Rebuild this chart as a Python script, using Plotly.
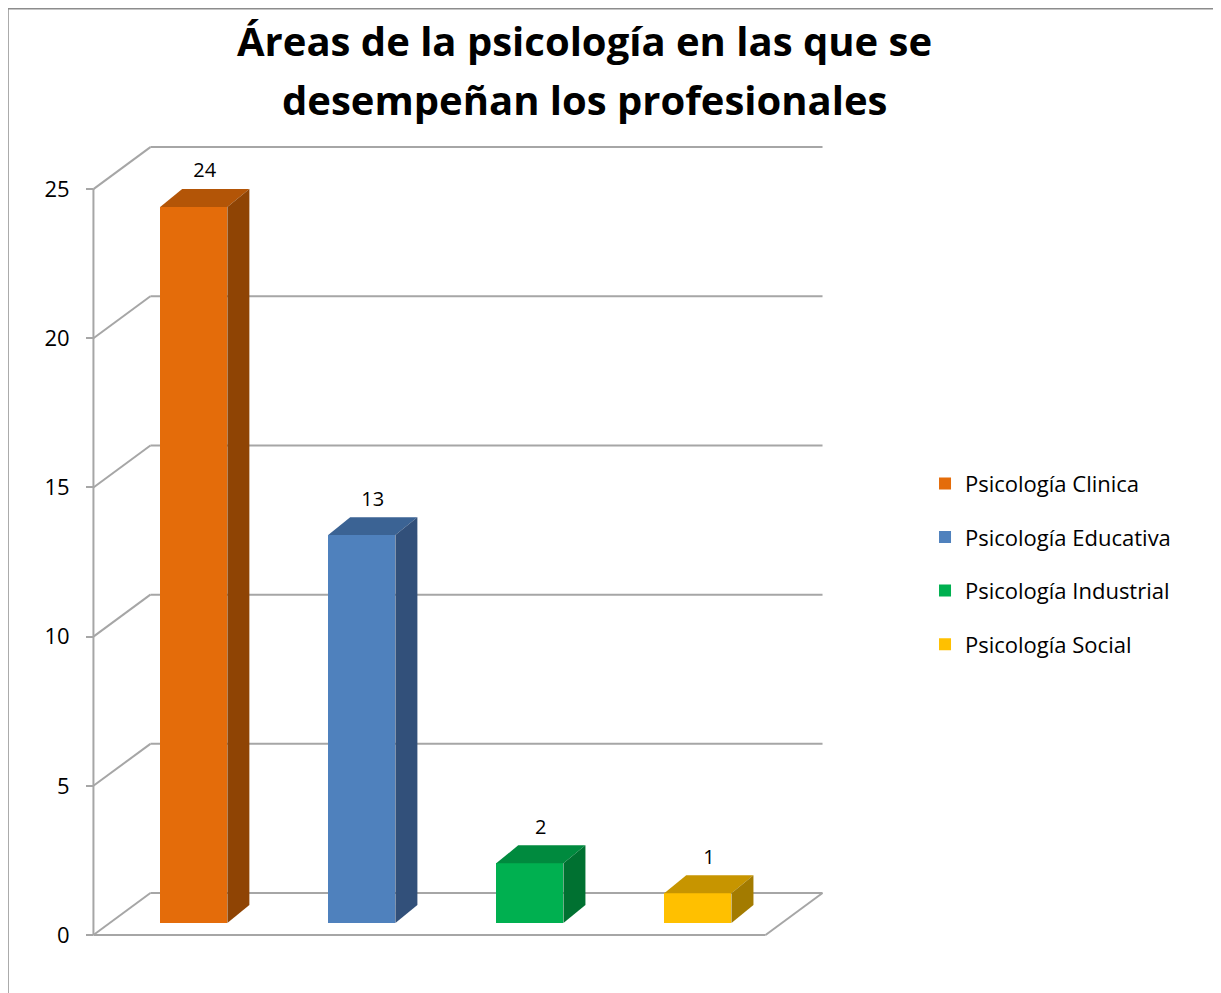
import plotly.graph_objects as go

# data
categories = ["Psicología Clinica", "Psicología Educativa", "Psicología Industrial", "Psicología Social"]
values = [24, 13, 2, 1]
tick_vals = [0, 5, 10, 15, 20, 25]
title_lines = ["Áreas de la psicología en las que se", "desempeñan los profesionales"]

front_colors = ["#E46C0A", "#4F81BD", "#00B050", "#FFC000"]
top_colors = ["#B35507", "#3B6394", "#008A3E", "#C79500"]
side_colors = ["#8F4404", "#32507A", "#007131", "#A37B00"]

# oblique 3d look (data units)
WALL_DX, WALL_DY = 0.339, 1.407
BAR_OFF_X, BAR_OFF_Y = 0.097, 0.402
BAR_DX, BAR_DY = 0.131, 0.603
BAR_W = 0.4
LABEL_PAD = 0.22
X0, X1 = -0.5, len(categories) - 0.5
GRID = "#A6A6A6"
FONT = "Open Sans"

fig = go.Figure()

# front faces
for i, (cat, v) in enumerate(zip(categories, values)):
    fig.add_trace(go.Bar(x=[i + BAR_OFF_X], y=[v], base=BAR_OFF_Y, width=BAR_W,
                         name=cat, legendgroup=cat,
                         marker=dict(color=front_colors[i], line=dict(width=0)),
                         hoverinfo="skip"))

# top and side faces
for i, v in enumerate(values):
    xl = i + BAR_OFF_X - BAR_W / 2
    xr = i + BAR_OFF_X + BAR_W / 2
    yb = BAR_OFF_Y
    yt = BAR_OFF_Y + v
    fig.add_trace(go.Scatter(x=[xl, xr, xr + BAR_DX, xl + BAR_DX, xl],
                             y=[yt, yt, yt + BAR_DY, yt + BAR_DY, yt],
                             fill="toself", fillcolor=top_colors[i], mode="none",
                             showlegend=False, hoverinfo="skip"))
    fig.add_trace(go.Scatter(x=[xr, xr + BAR_DX, xr + BAR_DX, xr, xr],
                             y=[yb, yb + BAR_DY, yt + BAR_DY, yt, yb],
                             fill="toself", fillcolor=side_colors[i], mode="none",
                             showlegend=False, hoverinfo="skip"))

# value labels
fig.add_trace(go.Scatter(x=[i + BAR_OFF_X + BAR_DX / 2 for i in range(len(values))],
                         y=[v + BAR_OFF_Y + BAR_DY + LABEL_PAD for v in values],
                         text=[str(v) for v in values], mode="text",
                         textposition="top center",
                         textfont=dict(size=20, color="#000000", family=FONT),
                         showlegend=False, hoverinfo="skip"))

# walls, floor and gridlines
shapes = []
for k in tick_vals:
    shapes.append(dict(type="line", xref="x", yref="y", layer="below",
                       x0=X0, y0=k, x1=X0 + WALL_DX, y1=k + WALL_DY,
                       line=dict(color=GRID, width=2)))
    shapes.append(dict(type="line", xref="x", yref="y", layer="below",
                       x0=X0 + WALL_DX, y0=k + WALL_DY, x1=X1 + WALL_DX, y1=k + WALL_DY,
                       line=dict(color=GRID, width=2)))
shapes.append(dict(type="line", xref="x", yref="y", layer="below",
                   x0=X0, y0=0, x1=X0, y1=tick_vals[-1], line=dict(color=GRID, width=2)))
shapes.append(dict(type="line", xref="x", yref="y", layer="below",
                   x0=X0, y0=0, x1=X1, y1=0, line=dict(color=GRID, width=2)))
shapes.append(dict(type="line", xref="x", yref="y", layer="below",
                   x0=X1, y0=0, x1=X1 + WALL_DX, y1=WALL_DY, line=dict(color=GRID, width=2)))
# chart border
shapes.append(dict(type="rect", xref="paper", yref="paper",
                   x0=-0.0667, y0=-0.06, x1=1.484, y1=1.146,
                   line=dict(color="#8C8C8C", width=1.5), layer="above"))

# title as two lines
annotations = []
for txt, ty in zip(title_lines, [1.108, 1.037]):
    annotations.append(dict(text="<b>" + txt + "</b>", xref="paper", yref="paper",
                            x=0.6724, y=ty, xanchor="center", yanchor="middle",
                            showarrow=False,
                            font=dict(family=FONT, size=40, color="#000000")))

fig.update_layout(
    width=1213, height=985,
    margin=dict(l=52, r=381, t=122, b=33),
    paper_bgcolor="white", plot_bgcolor="white",
    shapes=shapes,
    annotations=annotations,
    showlegend=True,
    legend=dict(x=1.109, xanchor="left", y=0.477, yanchor="middle",
                font=dict(family=FONT, size=22, color="#000000"),
                tracegroupgap=22, bgcolor="rgba(0,0,0,0)"),
    bargap=0,
)
fig.update_xaxes(range=[-0.699, 3.943], visible=False, automargin=False)
fig.update_yaxes(range=[-0.838, 26.98], tickvals=tick_vals, ticks="outside",
                 ticklen=7, tickwidth=2, tickcolor=GRID, showline=False,
                 showgrid=False, zeroline=False, anchor="free", position=0.0423,
                 automargin=False, ticklabelstandoff=12,
                 tickfont=dict(family=FONT, size=22, color="#000000"))

fig.write_html("out.html")
